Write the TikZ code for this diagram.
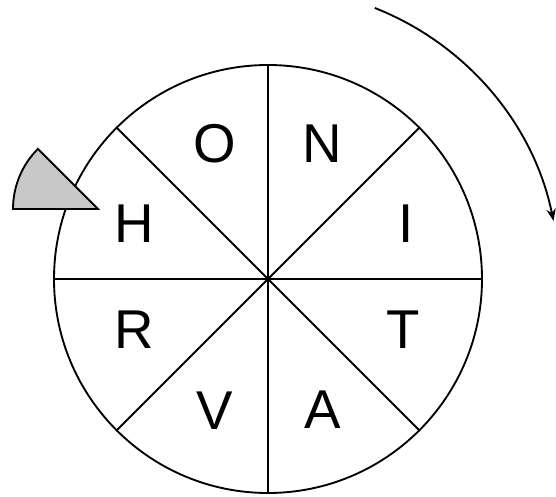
\documentclass[tikz,border=0pt]{standalone}
\usepackage{fontspec}
\setmainfont{Liberation Sans}
\usetikzlibrary{arrows.meta,calc}
\begin{document}
\begin{tikzpicture}[x=0.75pt,y=0.75pt,line width=1.4pt,
  letter/.style={inner sep=0pt,font=\fontsize{41}{41}\selectfont}]
\useasboundingbox (0,0) rectangle (556,496);
\clip (0,0) rectangle (556,496);
\coordinate (c) at (268,217);
\node[draw,circle,minimum size=321pt,inner sep=0pt] (wheel) at (c) {};
\foreach \a in {0,45,...,315} \draw (c) -- (wheel.\a);
% pointer
\coordinate (p) at (98,287);
\draw[fill={rgb,255:red,200;green,200;blue,200}] (p) -- ++(180:63.75pt) arc[start angle=180,end angle=135,radius=63.75pt] -- cycle;
% rotation arrow
\coordinate (as) at ($(c)+(68.5:218.5pt)$);
\draw[-{Stealth[length=9pt,width=7pt]}] (as) arc[start angle=68.5,end angle=11.5,radius=218.5pt];
% letters
\node[letter] (O) at (215,352) {O};
\node[letter] (N) at (322.7,352) {N};
\node[letter] (H) at (134,272) {H};
\node[letter] (I) at (405.7,272) {I};
\node[letter] (R) at (134.3,166) {R};
\node[letter] (T) at (403.3,166) {T};
\node[letter] (V) at (215,85.3) {V};
\node[letter] (A) at (322.7,86) {A};
\end{tikzpicture}
\end{document}
